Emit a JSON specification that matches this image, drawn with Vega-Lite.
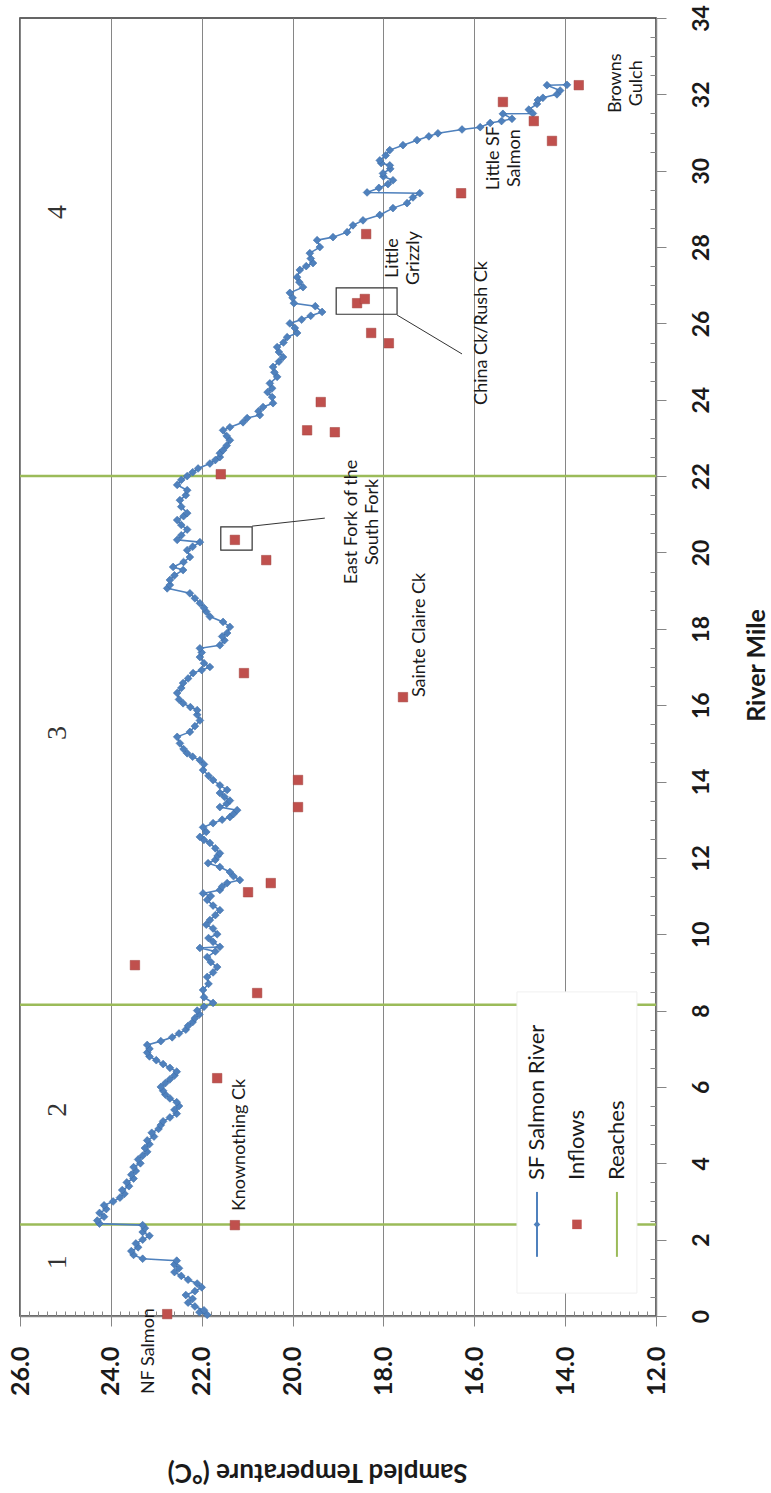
{
  "$schema": "https://vega.github.io/schema/vega-lite/v6.json",
  "width": 636,
  "height": 1298,
  "autosize": {"type": "none"},
  "padding": {"left": 20, "top": 18, "right": 115, "bottom": 177},
  "background": "white",
  "config": {"view": {"stroke": "#333333", "strokeWidth": 1.5}},
  "datasets": {
    "river": [
      {"seq":1,"mile":0.03,"temp":21.88},{"seq":2,"mile":0.1,"temp":22.05},{"seq":3,"mile":0.15,"temp":21.95},{"seq":4,"mile":0.25,"temp":22.15},{"seq":5,"mile":0.35,"temp":22.3},{"seq":6,"mile":0.45,"temp":22.2},{"seq":7,"mile":0.55,"temp":22.35},{"seq":8,"mile":0.65,"temp":22.15},{"seq":9,"mile":0.75,"temp":22.0},{"seq":10,"mile":0.85,"temp":22.1},
      {"seq":11,"mile":0.95,"temp":22.3},{"seq":12,"mile":1.05,"temp":22.45},{"seq":13,"mile":1.15,"temp":22.6},{"seq":14,"mile":1.25,"temp":22.5},{"seq":15,"mile":1.35,"temp":22.6},{"seq":16,"mile":1.45,"temp":22.55},{"seq":17,"mile":1.5,"temp":23.3},{"seq":18,"mile":1.6,"temp":23.5},{"seq":19,"mile":1.7,"temp":23.55},{"seq":20,"mile":1.8,"temp":23.4},
      {"seq":21,"mile":1.9,"temp":23.45},{"seq":22,"mile":2.0,"temp":23.3},{"seq":23,"mile":2.1,"temp":23.15},{"seq":24,"mile":2.2,"temp":23.3},{"seq":25,"mile":2.3,"temp":23.25},{"seq":26,"mile":2.38,"temp":23.3},{"seq":27,"mile":2.42,"temp":24.25},{"seq":28,"mile":2.5,"temp":24.3},{"seq":29,"mile":2.6,"temp":24.15},{"seq":30,"mile":2.7,"temp":24.25},
      {"seq":31,"mile":2.8,"temp":24.1},{"seq":32,"mile":2.9,"temp":24.15},{"seq":33,"mile":3.0,"temp":23.95},{"seq":34,"mile":3.1,"temp":23.8},{"seq":35,"mile":3.2,"temp":23.7},{"seq":36,"mile":3.3,"temp":23.75},{"seq":37,"mile":3.4,"temp":23.6},{"seq":38,"mile":3.5,"temp":23.65},{"seq":39,"mile":3.6,"temp":23.5},{"seq":40,"mile":3.7,"temp":23.55},
      {"seq":41,"mile":3.8,"temp":23.45},{"seq":42,"mile":3.9,"temp":23.5},{"seq":43,"mile":4.0,"temp":23.35},{"seq":44,"mile":4.1,"temp":23.4},{"seq":45,"mile":4.2,"temp":23.3},{"seq":46,"mile":4.3,"temp":23.2},{"seq":47,"mile":4.4,"temp":23.25},{"seq":48,"mile":4.5,"temp":23.15},{"seq":49,"mile":4.6,"temp":23.2},{"seq":50,"mile":4.7,"temp":23.05},
      {"seq":51,"mile":4.8,"temp":23.1},{"seq":52,"mile":4.9,"temp":22.95},{"seq":53,"mile":5.0,"temp":22.9},{"seq":54,"mile":5.1,"temp":22.85},{"seq":55,"mile":5.2,"temp":22.7},{"seq":56,"mile":5.3,"temp":22.55},{"seq":57,"mile":5.4,"temp":22.6},{"seq":58,"mile":5.5,"temp":22.5},{"seq":59,"mile":5.6,"temp":22.55},{"seq":60,"mile":5.7,"temp":22.7},
      {"seq":61,"mile":5.8,"temp":22.8},{"seq":62,"mile":5.9,"temp":22.85},{"seq":63,"mile":6.0,"temp":22.9},{"seq":64,"mile":6.1,"temp":22.8},{"seq":65,"mile":6.2,"temp":22.7},{"seq":66,"mile":6.3,"temp":22.6},{"seq":67,"mile":6.4,"temp":22.55},{"seq":68,"mile":6.5,"temp":22.7},{"seq":69,"mile":6.6,"temp":22.85},{"seq":70,"mile":6.7,"temp":23.0},
      {"seq":71,"mile":6.8,"temp":23.15},{"seq":72,"mile":6.9,"temp":23.2},{"seq":73,"mile":7.0,"temp":23.15},{"seq":74,"mile":7.1,"temp":23.2},{"seq":75,"mile":7.2,"temp":22.9},{"seq":76,"mile":7.3,"temp":22.65},{"seq":77,"mile":7.4,"temp":22.5},{"seq":78,"mile":7.5,"temp":22.35},{"seq":79,"mile":7.6,"temp":22.3},{"seq":80,"mile":7.7,"temp":22.2},
      {"seq":81,"mile":7.8,"temp":22.15},{"seq":82,"mile":7.9,"temp":22.05},{"seq":83,"mile":8.0,"temp":22.1},{"seq":84,"mile":8.1,"temp":21.95},{"seq":85,"mile":8.2,"temp":21.75},{"seq":86,"mile":8.35,"temp":21.95},{"seq":87,"mile":8.54,"temp":21.97},{"seq":88,"mile":8.7,"temp":21.85},{"seq":89,"mile":8.88,"temp":21.88},{"seq":90,"mile":9.0,"temp":21.75},
      {"seq":91,"mile":9.14,"temp":21.66},{"seq":92,"mile":9.27,"temp":21.8},{"seq":93,"mile":9.4,"temp":21.88},{"seq":94,"mile":9.55,"temp":21.7},{"seq":95,"mile":9.64,"temp":22.04},{"seq":96,"mile":9.67,"temp":21.6},{"seq":97,"mile":9.8,"temp":21.75},{"seq":98,"mile":9.9,"temp":21.85},{"seq":99,"mile":10.0,"temp":21.66},{"seq":100,"mile":10.15,"temp":21.75},
      {"seq":101,"mile":10.25,"temp":21.9},{"seq":102,"mile":10.37,"temp":21.82},{"seq":103,"mile":10.5,"temp":21.7},{"seq":104,"mile":10.63,"temp":21.6},{"seq":105,"mile":10.75,"temp":21.75},{"seq":106,"mile":10.9,"temp":21.88},{"seq":107,"mile":11.0,"temp":21.8},{"seq":108,"mile":11.07,"temp":21.97},{"seq":109,"mile":11.16,"temp":21.6},{"seq":110,"mile":11.25,"temp":21.55},
      {"seq":111,"mile":11.34,"temp":21.44},{"seq":112,"mile":11.42,"temp":21.16},{"seq":113,"mile":11.52,"temp":21.3},{"seq":114,"mile":11.63,"temp":21.38},{"seq":115,"mile":11.76,"temp":21.6},{"seq":116,"mile":11.86,"temp":21.86},{"seq":117,"mile":11.95,"temp":21.7},{"seq":118,"mile":12.05,"temp":21.65},{"seq":119,"mile":12.12,"temp":21.6},{"seq":120,"mile":12.25,"temp":21.7},
      {"seq":121,"mile":12.39,"temp":21.82},{"seq":122,"mile":12.47,"temp":21.95},{"seq":123,"mile":12.55,"temp":22.04},{"seq":124,"mile":12.68,"temp":21.9},{"seq":125,"mile":12.8,"temp":21.97},{"seq":126,"mile":12.91,"temp":21.75},{"seq":127,"mile":13.0,"temp":21.55},{"seq":128,"mile":13.07,"temp":21.38},{"seq":129,"mile":13.15,"temp":21.3},{"seq":130,"mile":13.25,"temp":21.22},
      {"seq":131,"mile":13.33,"temp":21.6},{"seq":132,"mile":13.42,"temp":21.45},{"seq":133,"mile":13.5,"temp":21.38},{"seq":134,"mile":13.6,"temp":21.5},{"seq":135,"mile":13.7,"temp":21.6},{"seq":136,"mile":13.78,"temp":21.44},{"seq":137,"mile":13.9,"temp":21.6},{"seq":138,"mile":14.04,"temp":21.75},{"seq":139,"mile":14.15,"temp":21.85},{"seq":140,"mile":14.3,"temp":21.97},
      {"seq":141,"mile":14.45,"temp":21.95},{"seq":142,"mile":14.56,"temp":22.04},{"seq":143,"mile":14.65,"temp":22.2},{"seq":144,"mile":14.74,"temp":22.32},{"seq":145,"mile":14.85,"temp":22.4},{"seq":146,"mile":15.0,"temp":22.48},{"seq":147,"mile":15.17,"temp":22.54},{"seq":148,"mile":15.3,"temp":22.26},{"seq":149,"mile":15.45,"temp":22.15},{"seq":150,"mile":15.6,"temp":22.04},
      {"seq":151,"mile":15.75,"temp":22.1},{"seq":152,"mile":15.87,"temp":22.1},{"seq":153,"mile":15.95,"temp":22.25},{"seq":154,"mile":16.05,"temp":22.41},{"seq":155,"mile":16.15,"temp":22.5},{"seq":156,"mile":16.32,"temp":22.54},{"seq":157,"mile":16.45,"temp":22.45},{"seq":158,"mile":16.58,"temp":22.41},{"seq":159,"mile":16.7,"temp":22.3},{"seq":160,"mile":16.84,"temp":22.19},
      {"seq":161,"mile":16.92,"temp":22.0},{"seq":162,"mile":17.0,"temp":21.82},{"seq":163,"mile":17.1,"temp":21.95},{"seq":164,"mile":17.26,"temp":22.04},{"seq":165,"mile":17.38,"temp":22.0},{"seq":166,"mile":17.49,"temp":22.04},{"seq":167,"mile":17.57,"temp":21.6},{"seq":168,"mile":17.7,"temp":21.5},{"seq":169,"mile":17.8,"temp":21.55},{"seq":170,"mile":17.89,"temp":21.44},
      {"seq":171,"mile":18.05,"temp":21.38},{"seq":172,"mile":18.18,"temp":21.53},{"seq":173,"mile":18.32,"temp":21.82},{"seq":174,"mile":18.45,"temp":21.9},{"seq":175,"mile":18.55,"temp":21.95},{"seq":176,"mile":18.67,"temp":22.04},{"seq":177,"mile":18.8,"temp":22.15},{"seq":178,"mile":18.93,"temp":22.26},{"seq":179,"mile":19.06,"temp":22.76},{"seq":180,"mile":19.15,"temp":22.7},
      {"seq":181,"mile":19.28,"temp":22.7},{"seq":182,"mile":19.4,"temp":22.6},{"seq":183,"mile":19.54,"temp":22.41},{"seq":184,"mile":19.62,"temp":22.63},{"seq":185,"mile":19.75,"temp":22.4},{"seq":186,"mile":19.88,"temp":22.26},{"seq":187,"mile":20.06,"temp":22.32},{"seq":188,"mile":20.15,"temp":22.2},{"seq":189,"mile":20.27,"temp":22.04},{"seq":190,"mile":20.33,"temp":22.54},
      {"seq":191,"mile":20.45,"temp":22.45},{"seq":192,"mile":20.6,"temp":22.32},{"seq":193,"mile":20.72,"temp":22.45},{"seq":194,"mile":20.85,"temp":22.54},{"seq":195,"mile":20.95,"temp":22.4},{"seq":196,"mile":21.03,"temp":22.32},{"seq":197,"mile":21.2,"temp":22.45},{"seq":198,"mile":21.37,"temp":22.48},{"seq":199,"mile":21.5,"temp":22.35},{"seq":200,"mile":21.63,"temp":22.32},
      {"seq":201,"mile":21.77,"temp":22.54},{"seq":202,"mile":21.9,"temp":22.45},{"seq":203,"mile":22.0,"temp":22.32},{"seq":204,"mile":22.1,"temp":22.2},{"seq":205,"mile":22.2,"temp":22.08},{"seq":206,"mile":22.33,"temp":21.82},{"seq":207,"mile":22.42,"temp":21.7},{"seq":208,"mile":22.5,"temp":21.6},{"seq":209,"mile":22.6,"temp":21.6},{"seq":210,"mile":22.68,"temp":21.53},
      {"seq":211,"mile":22.8,"temp":21.45},{"seq":212,"mile":22.94,"temp":21.38},{"seq":213,"mile":23.05,"temp":21.45},{"seq":214,"mile":23.2,"temp":21.53},{"seq":215,"mile":23.28,"temp":21.38},{"seq":216,"mile":23.41,"temp":21.09},{"seq":217,"mile":23.52,"temp":21.0},{"seq":218,"mile":23.6,"temp":20.72},{"seq":219,"mile":23.7,"temp":20.75},{"seq":220,"mile":23.81,"temp":20.65},
      {"seq":221,"mile":23.91,"temp":20.43},{"seq":222,"mile":24.07,"temp":20.45},{"seq":223,"mile":24.2,"temp":20.55},{"seq":224,"mile":24.3,"temp":20.45},{"seq":225,"mile":24.43,"temp":20.5},{"seq":226,"mile":24.6,"temp":20.34},{"seq":227,"mile":24.72,"temp":20.4},{"seq":228,"mile":24.86,"temp":20.43},{"seq":229,"mile":25.0,"temp":20.3},{"seq":230,"mile":25.12,"temp":20.21},
      {"seq":231,"mile":25.25,"temp":20.3},{"seq":232,"mile":25.38,"temp":20.34},{"seq":233,"mile":25.5,"temp":20.2},{"seq":234,"mile":25.64,"temp":20.12},{"seq":235,"mile":25.75,"temp":19.9},{"seq":236,"mile":25.88,"temp":19.95},{"seq":237,"mile":26.0,"temp":20.06},{"seq":238,"mile":26.1,"temp":19.8},{"seq":239,"mile":26.2,"temp":19.6},{"seq":240,"mile":26.3,"temp":19.35},
      {"seq":241,"mile":26.45,"temp":19.5},{"seq":242,"mile":26.53,"temp":19.97},{"seq":243,"mile":26.67,"temp":20.0},{"seq":244,"mile":26.8,"temp":20.06},{"seq":245,"mile":26.95,"temp":19.77},{"seq":246,"mile":27.08,"temp":19.85},{"seq":247,"mile":27.21,"temp":19.9},{"seq":248,"mile":27.4,"temp":19.84},{"seq":249,"mile":27.5,"temp":19.7},{"seq":250,"mile":27.58,"temp":19.55},
      {"seq":251,"mile":27.7,"temp":19.6},{"seq":252,"mile":27.84,"temp":19.62},{"seq":253,"mile":28.0,"temp":19.4},{"seq":254,"mile":28.18,"temp":19.46},{"seq":255,"mile":28.26,"temp":19.11},{"seq":256,"mile":28.39,"temp":18.8},{"seq":257,"mile":28.57,"temp":18.67},{"seq":258,"mile":28.7,"temp":18.45},{"seq":259,"mile":28.84,"temp":18.08},{"seq":260,"mile":29.02,"temp":17.79},
      {"seq":261,"mile":29.15,"temp":17.48},{"seq":262,"mile":29.3,"temp":17.35},{"seq":263,"mile":29.41,"temp":17.2},{"seq":264,"mile":29.43,"temp":18.36},{"seq":265,"mile":29.55,"temp":18.1},{"seq":266,"mile":29.65,"temp":17.9},{"seq":267,"mile":29.75,"temp":17.79},{"seq":268,"mile":29.85,"temp":18.0},{"seq":269,"mile":29.93,"temp":18.01},{"seq":270,"mile":30.05,"temp":17.85},
      {"seq":271,"mile":30.14,"temp":17.86},{"seq":272,"mile":30.2,"temp":18.05},{"seq":273,"mile":30.27,"temp":18.08},{"seq":274,"mile":30.4,"temp":17.95},{"seq":275,"mile":30.54,"temp":17.86},{"seq":276,"mile":30.67,"temp":17.57},{"seq":277,"mile":30.8,"temp":17.26},{"seq":278,"mile":30.9,"temp":17.0},{"seq":279,"mile":30.98,"temp":16.8},{"seq":280,"mile":31.08,"temp":16.27},
      {"seq":281,"mile":31.14,"temp":15.87},{"seq":282,"mile":31.25,"temp":15.65},{"seq":283,"mile":31.3,"temp":15.4},{"seq":284,"mile":31.36,"temp":15.17},{"seq":285,"mile":31.49,"temp":15.37},{"seq":286,"mile":31.5,"temp":14.71},{"seq":287,"mile":31.6,"temp":14.8},{"seq":288,"mile":31.75,"temp":14.62},{"seq":289,"mile":31.85,"temp":14.6},{"seq":290,"mile":31.91,"temp":14.49},
      {"seq":291,"mile":32.0,"temp":14.18},{"seq":292,"mile":32.1,"temp":14.11},{"seq":293,"mile":32.24,"temp":14.4},{"seq":294,"mile":32.25,"temp":13.96}
    ],
    "inflows": [
      {"mile":0.05,"temp":22.76},{"mile":2.38,"temp":21.27},{"mile":6.23,"temp":21.66},{"mile":8.46,"temp":20.78},{"mile":9.19,"temp":23.47},
      {"mile":11.1,"temp":20.98},{"mile":11.34,"temp":20.48},{"mile":13.33,"temp":19.88},{"mile":14.04,"temp":19.88},{"mile":16.21,"temp":17.57},
      {"mile":16.84,"temp":21.07},{"mile":19.8,"temp":20.58},{"mile":20.33,"temp":21.27},{"mile":22.05,"temp":21.58},{"mile":23.15,"temp":19.07},
      {"mile":23.2,"temp":19.68},{"mile":23.94,"temp":19.38},{"mile":25.48,"temp":17.88},{"mile":25.75,"temp":18.27},{"mile":26.53,"temp":18.58},
      {"mile":26.64,"temp":18.41},{"mile":28.34,"temp":18.38},{"mile":29.41,"temp":16.29},{"mile":30.78,"temp":14.29},{"mile":31.3,"temp":14.69},
      {"mile":31.8,"temp":15.37},{"mile":32.24,"temp":13.7}
    ],
    "reaches": [{"mile":2.4,"temp":26,"temp2":12},{"mile":8.15,"temp":26,"temp2":12},{"mile":22.0,"temp":26,"temp2":12}],
    "boxes": [
      {"temp":21.58,"temp2":20.89,"mile":20.67,"mile2":20.06},
      {"temp":19.04,"temp2":17.7,"mile":26.93,"mile2":26.24}
    ],
    "leaders": [
      {"temp":20.89,"temp2":19.29,"mile":20.69,"mile2":20.9},
      {"temp":17.7,"temp2":16.27,"mile":26.22,"mile2":25.2}
    ],
    "notes": [
      {"label":"NF Salmon","temp":23.16,"mile":-0.92},
      {"label":"Knownothing Ck","temp":21.16,"mile":4.48},
      {"label":"East Fork of the\nSouth Fork","temp":18.69,"mile":20.8},
      {"label":"Sainte Claire Ck","temp":17.2,"mile":17.84},
      {"label":"China Ck/Rush Ck","temp":15.83,"mile":25.75},
      {"label":"Little\nGrizzly","temp":17.79,"mile":27.71},
      {"label":"Little SF\nSalmon","temp":15.57,"mile":30.33},
      {"label":"Browns\nGulch","temp":12.88,"mile":32.29}
    ],
    "reachnums": [
      {"label":"1","temp":25.16,"mile":1.41},
      {"label":"2","temp":25.16,"mile":5.4},
      {"label":"3","temp":25.16,"mile":15.27},
      {"label":"4","temp":25.16,"mile":28.92}
    ],
    "legendbox": [{"temp":15.06,"temp2":12.42,"mile":0.6,"mile2":8.49}],
    "legendlines": [
      {"item":"SF Salmon River","temp":14.62,"mile":1.55,"mile2":3.25},
      {"item":"Reaches","temp":12.86,"mile":1.55,"mile2":3.25}
    ],
    "legendsym": [
      {"item":"SF Salmon River","temp":14.62,"mile":2.4},
      {"item":"Inflows","temp":13.74,"mile":2.4}
    ],
    "legendtext": [
      {"label":"SF Salmon River","temp":14.62,"mile":3.56},
      {"label":"Inflows","temp":13.74,"mile":3.56},
      {"label":"Reaches","temp":12.86,"mile":3.56}
    ]
  },
  "encoding": {
    "x": {"field": "temp", "type": "quantitative", "scale": {"domain": [12, 26], "reverse": true, "nice": false, "zero": false},
      "axis": {
        "title": "Sampled Temperature (°C)",
        "values": [12,12.2,12.4,12.6,12.8,13,13.2,13.4,13.6,13.8,14,14.2,14.4,14.6,14.8,15,15.2,15.4,15.6,15.8,16,16.2,16.4,16.6,16.8,17,17.2,17.4,17.6,17.8,18,18.2,18.4,18.6,18.8,19,19.2,19.4,19.6,19.8,20,20.2,20.4,20.6,20.8,21,21.2,21.4,21.6,21.8,22,22.2,22.4,22.6,22.8,23,23.2,23.4,23.6,23.8,24,24.2,24.4,24.6,24.8,25,25.2,25.4,25.6,25.8,26],
        "labelExpr": "abs(datum.value/2 - round(datum.value/2)) < 0.01 ? format(datum.value, '.1f') : ''",
        "labelAngle": 270, "labelAlign": "right", "labelBaseline": "middle", "labelPadding": 20,
        "labelFont": "Lato", "labelFontSize": 25, "labelFontWeight": "bold", "labelColor": "#1a1a1a",
        "labelOverlap": false, "labelFlush": false, "labelBound": false,
        "tickSize": {"condition": {"test": "abs(datum.value/2 - round(datum.value/2)) < 0.01", "value": 10}, "value": -5},
        "tickColor": "#868686", "tickWidth": 1,
        "grid": true, "gridColor": "#868686", "gridWidth": 1,
        "gridOpacity": {"condition": {"test": "abs(datum.value/2 - round(datum.value/2)) < 0.01", "value": 1}, "value": 0},
        "domainColor": "#868686", "domainWidth": 1.5,
        "titleAngle": 180, "titleX": 297, "titleY": 155, "titleAlign": "center", "titleBaseline": "middle",
        "titleFont": "Lato", "titleFontSize": 26, "titleFontWeight": "bold", "titleColor": "#1a1a1a"
      }
    },
    "y": {"field": "mile", "type": "quantitative", "scale": {"domain": [0, 34], "nice": false, "zero": false},
      "axis": {
        "orient": "right",
        "title": "River Mile",
        "values": [0,0.5,1,1.5,2,2.5,3,3.5,4,4.5,5,5.5,6,6.5,7,7.5,8,8.5,9,9.5,10,10.5,11,11.5,12,12.5,13,13.5,14,14.5,15,15.5,16,16.5,17,17.5,18,18.5,19,19.5,20,20.5,21,21.5,22,22.5,23,23.5,24,24.5,25,25.5,26,26.5,27,27.5,28,28.5,29,29.5,30,30.5,31,31.5,32,32.5,33,33.5,34],
        "labelExpr": "abs(datum.value/2 - round(datum.value/2)) < 0.01 ? format(datum.value, '.0f') : ''",
        "labelAngle": 270, "labelAlign": "center", "labelBaseline": "top", "labelPadding": 24,
        "labelFont": "Lato", "labelFontSize": 23, "labelFontWeight": "bold", "labelColor": "#1a1a1a",
        "labelOverlap": false, "labelFlush": false, "labelBound": false,
        "tickSize": {"condition": {"test": "abs(datum.value/2 - round(datum.value/2)) < 0.01", "value": 10}, "value": -6},
        "tickColor": "#868686", "tickWidth": 1,
        "grid": false,
        "domainColor": "#868686", "domainWidth": 1.5,
        "titleAngle": 270, "titleX": 100, "titleY": 647, "titleAlign": "center", "titleBaseline": "middle",
        "titleFont": "Lato", "titleFontSize": 25, "titleFontWeight": "bold", "titleColor": "#1a1a1a"
      }
    }
  },
  "layer": [
    {
      "data": {"name": "reaches"},
      "mark": {"type": "rule", "color": "#9BBB59", "strokeWidth": 2.5},
      "encoding": {"x2": {"field": "temp2"}}
    },
    {
      "data": {"name": "river"},
      "mark": {"type": "line", "color": "#4F81BD", "strokeWidth": 1.6,
        "point": {"filled": true, "shape": "diamond", "size": 60, "color": "#4F81BD", "stroke": "#3D6DA8", "strokeWidth": 0.6}},
      "encoding": {"order": {"field": "seq", "type": "quantitative"}}
    },
    {
      "data": {"name": "legendbox"},
      "mark": {"type": "rect", "fill": "white", "stroke": "#f0f0f0", "strokeWidth": 1},
      "encoding": {"x2": {"field": "temp2"}, "y2": {"field": "mile2"}}
    },
    {
      "data": {"name": "legendlines"},
      "mark": {"type": "rule", "strokeWidth": 2},
      "encoding": {
        "y2": {"field": "mile2"},
        "color": {"field": "item", "type": "nominal", "scale": {"domain": ["SF Salmon River", "Inflows", "Reaches"], "range": ["#4F81BD", "#C0504D", "#9BBB59"]}, "legend": null}
      }
    },
    {
      "data": {"name": "legendsym"},
      "mark": {"type": "point", "filled": true, "opacity": 1},
      "encoding": {
        "color": {"field": "item", "type": "nominal", "legend": null},
        "shape": {"field": "item", "type": "nominal", "scale": {"domain": ["SF Salmon River", "Inflows"], "range": ["diamond", "square"]}, "legend": null},
        "size": {"field": "item", "type": "nominal", "scale": {"domain": ["SF Salmon River", "Inflows"], "range": [45, 90]}, "legend": null}
      }
    },
    {
      "data": {"name": "legendtext"},
      "mark": {"type": "text", "angle": 270, "align": "left", "baseline": "middle", "font": "Lato", "fontSize": 22, "color": "#1a1a1a"},
      "encoding": {"text": {"field": "label"}}
    },
    {
      "data": {"name": "inflows"},
      "mark": {"type": "point", "shape": "square", "filled": true, "size": 90, "color": "#C0504D", "opacity": 1, "stroke": "#A0403D", "strokeWidth": 0.5},
      "encoding": {}
    },
    {
      "data": {"name": "boxes"},
      "mark": {"type": "rect", "fill": null, "fillOpacity": 0, "stroke": "#333333", "strokeWidth": 1.2},
      "encoding": {"x2": {"field": "temp2"}, "y2": {"field": "mile2"}}
    },
    {
      "data": {"name": "leaders"},
      "mark": {"type": "rule", "color": "#333333", "strokeWidth": 1},
      "encoding": {"x2": {"field": "temp2"}, "y2": {"field": "mile2"}}
    },
    {
      "data": {"name": "notes"},
      "mark": {"type": "text", "angle": 270, "align": "center", "baseline": "middle", "lineBreak": "\n", "lineHeight": 21, "font": "Lato", "fontSize": 18, "color": "#1a1a1a"},
      "encoding": {"text": {"field": "label"}}
    },
    {
      "data": {"name": "reachnums"},
      "mark": {"type": "text", "angle": 270, "align": "center", "baseline": "middle", "font": "Liberation Serif", "fontSize": 28, "color": "#333333"},
      "encoding": {"text": {"field": "label"}}
    }
  ]
}
